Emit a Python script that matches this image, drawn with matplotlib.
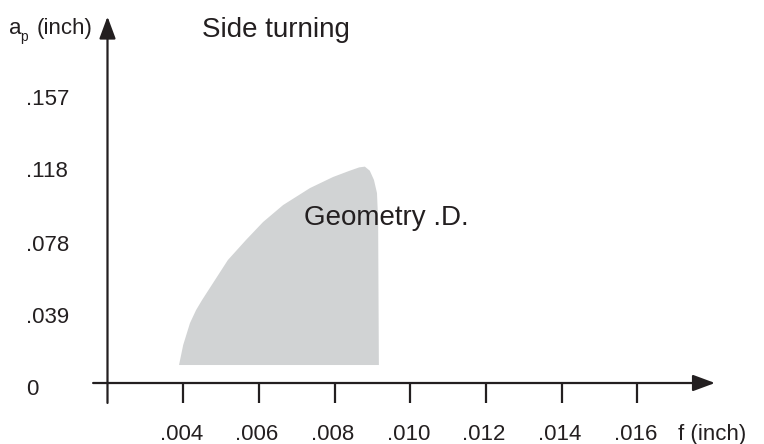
import matplotlib.pyplot as plt
import matplotlib.transforms as mtransforms

plt.rcParams["font.family"] = ["Liberation Sans", "DejaVu Sans"]

# feed f (inch) ticks and depth of cut a_p (inch) ticks
f_ticks = [0.004, 0.006, 0.008, 0.010, 0.012, 0.014, 0.016]
f_tick_labels = [".004", ".006", ".008", ".010", ".012", ".014", ".016"]
ap_ticks = [0.0, 0.039, 0.078, 0.118, 0.157]
ap_tick_labels = ["0", ".039", ".078", ".118", ".157"]

# outline of the "Geometry .D." working area
region_f = [0.00389, 0.00400, 0.00418, 0.00434, 0.00450, 0.00484, 0.00518,
            0.00566, 0.00611, 0.00664, 0.00735, 0.00796, 0.00840, 0.00865,
            0.00880, 0.00893, 0.00904, 0.00912, 0.00915, 0.00917]
region_ap = [0.00975, 0.0206, 0.0325, 0.0395, 0.0450, 0.0558, 0.0666,
             0.0775, 0.0872, 0.0964, 0.1056, 0.1116, 0.1150, 0.1168,
             0.1172, 0.1150, 0.1100, 0.1029, 0.0883, 0.00975]

origin_f = 0.002
tick_depth = -0.0108
ink = "#231f20"

fig = plt.figure(figsize=(7.64, 4.44), dpi=100)
ax = fig.add_axes([0, 0, 1, 1])
ax.set_xlim(-0.00084, 0.019345)
ax.set_ylim(-0.03304, 0.20747)
ax.axis("off")

# shaded region
ax.fill(region_f, region_ap, color="#d1d3d4", lw=0, zorder=1)

# axes with arrow heads
arrow = dict(arrowstyle="-|>,head_length=1.35,head_width=0.5",
             color=ink, lw=1.6, shrinkA=0, shrinkB=0, mutation_scale=10)
ax.annotate("", xy=(0.01805, 0), xytext=(0.00162, 0), arrowprops=arrow)
ax.annotate("", xy=(origin_f, 0.1985), xytext=(origin_f, tick_depth),
            arrowprops=arrow)

for f in f_ticks:
    ax.plot([f, f], [0, tick_depth], color=ink, lw=1.6, solid_capstyle="butt")

text_kw = dict(color=ink, fontsize=16)
label_base = -0.0309
for f, lab in zip(f_ticks, f_tick_labels):
    ax.text(f - 0.00005, label_base, lab, ha="center", va="baseline", **text_kw)
ax.text(0.01707, label_base, "f (inch)", ha="left", va="baseline", **text_kw)

# y labels sit a little below their nominal level
y_shift = mtransforms.offset_copy(ax.transData, fig=fig, y=-12, units="dots")
for a, lab in zip(ap_ticks, ap_tick_labels):
    ax.text(-0.00015, a, lab, ha="left", va="baseline", transform=y_shift,
            **text_kw)

# a_p (inch) with a small, low subscript
ax.text(-0.00060, 0.1893, "a", ha="left", va="baseline", **text_kw)
ax.text(-0.00030, 0.1850, "p", ha="left", va="baseline", color=ink,
        fontsize=10)
ax.text(0.00012, 0.1893, "(inch)", ha="left", va="baseline", **text_kw)

ax.text(0.00450, 0.1874, "Side turning", ha="left", va="baseline",
        color=ink, fontsize=20)
ax.text(0.00719, 0.0856, "Geometry .D.", ha="left", va="baseline",
        color=ink, fontsize=20)

fig.savefig("out.png", dpi=100)
